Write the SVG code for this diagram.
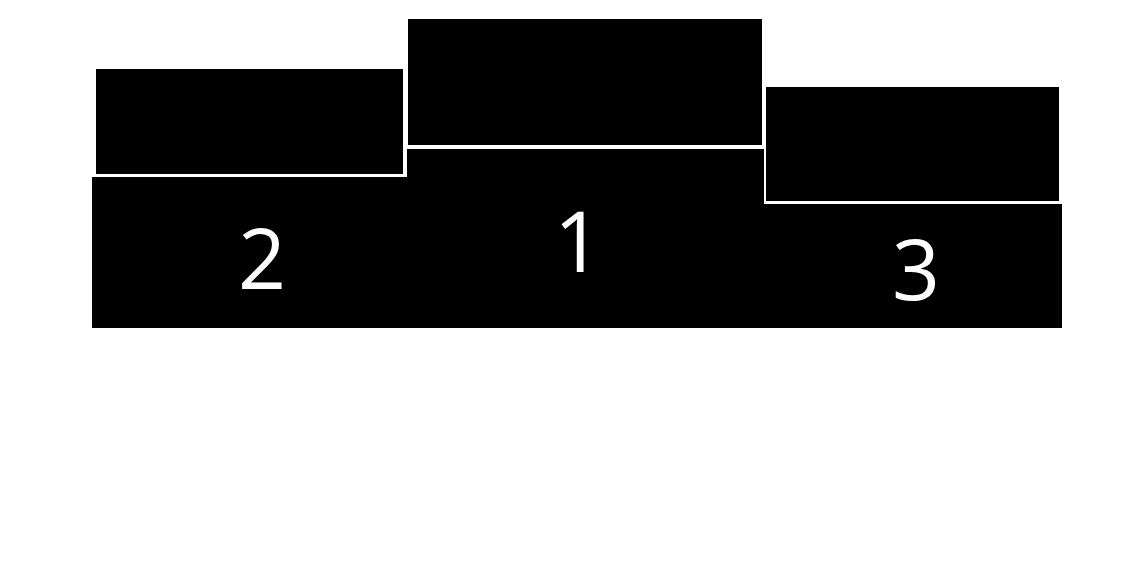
<svg xmlns="http://www.w3.org/2000/svg" width="1138" height="578" viewBox="0 0 1138 578">
<style>
.blk{fill:#000}
.num{fill:#fff;font-family:"Open Sans","Noto Sans",sans-serif;font-size:84px;text-anchor:middle}
</style>
<rect width="1138" height="578" fill="#fff"/>
<g id="place2">
<rect class="blk" x="96" y="69" width="307" height="105"/>
<rect class="blk" x="92" y="177" width="315" height="151"/>
<text class="num" x="262" y="289">2</text>
</g>
<g id="place1">
<rect class="blk" x="408" y="19" width="354" height="126"/>
<rect class="blk" x="407" y="149" width="357" height="179"/>
<text class="num" x="578" y="272">1</text>
</g>
<g id="place3">
<rect class="blk" x="766" y="87" width="293" height="114"/>
<rect class="blk" x="764" y="204" width="298" height="124"/>
<text class="num" x="916" y="300">3</text>
</g>
<g id="connectors"/>
</svg>
